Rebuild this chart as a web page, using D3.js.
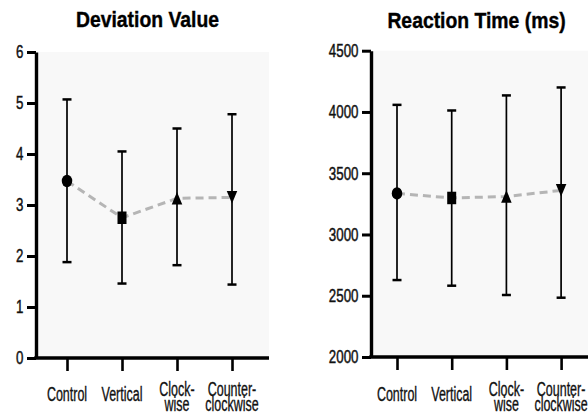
<!DOCTYPE html>
<html><head><meta charset="utf-8">
<script src="https://cdn.jsdelivr.net/npm/d3@7"></script>
<style>body{margin:0;background:#fff}</style></head>
<body><svg id="c" width="588" height="416"></svg>
<script>
// ---- data ----
const categories = ["Control", "Vertical", "Clockwise", "Counterclockwise"];
const categoryLines = [["Control"], ["Vertical"], ["Clock-", "wise"], ["Counter-", "clockwise"]];
const markerShapes = ["circle", "square", "triangleUp", "triangleDown"];

const devMean  = [3.47, 2.75, 3.13, 3.15];
const devUpper = [5.07, 4.05, 4.50, 4.78];
const devLower = [1.88, 1.46, 1.82, 1.44];
const devTicks = [0, 1, 2, 3, 4, 5, 6];

const rtMean  = [3335, 3298, 3310, 3360];
const rtUpper = [4058, 4012, 4135, 4200];
const rtLower = [2628, 2582, 2506, 2484];
const rtTicks = [2000, 2500, 3000, 3500, 4000, 4500];

const titles = ["Deviation Value", "Reaction Time (ms)"];

// ---- drawing ----
const svg = d3.select("#c");
const FONT = "'Liberation Sans', Arial, sans-serif";

function markerPath(shape, w, h) {
  const a = w / 2, b = h / 2;
  if (shape === "circle") {
    return `M${-a},0 A${a},${b} 0 1,0 ${a},0 A${a},${b} 0 1,0 ${-a},0 Z`;
  }
  if (shape === "square") return `M${-a},${-b} H${a} V${b} H${-a} Z`;
  if (shape === "triangleUp") return `M0,${-b} L${a},${b} L${-a},${b} Z`;
  return `M0,${b} L${a},${-b} L${-a},${-b} Z`;
}

function panel(o) {
  const g = svg.append("g");
  const y = d3.scaleLinear().domain([o.ticks[0], o.ticks[o.ticks.length - 1]]).range([o.bottom, o.top]);
  const x = d3.scalePoint().domain(categories).range([o.firstX, o.firstX + 3 * o.step]);

  // background
  g.append("rect").attr("x", o.axisX).attr("y", o.top)
    .attr("width", o.right - o.axisX).attr("height", o.bottom - o.top)
    .attr("fill", "#f8f8f8");

  // dashed connecting line
  const line = d3.line().x((d, i) => x(categories[i])).y(d => y(d));
  g.append("path").datum(o.mean).attr("d", line)
    .attr("fill", "none").attr("stroke", "#b5b5b5")
    .attr("stroke-width", 3).attr("stroke-dasharray", "8,5");

  // error bars
  categories.forEach((c, i) => {
    const cx = x(c);
    g.append("line").attr("x1", cx).attr("x2", cx)
      .attr("y1", y(o.lower[i])).attr("y2", y(o.upper[i]))
      .attr("stroke", "#000").attr("stroke-width", 1.7);
    [o.lower[i], o.upper[i]].forEach(v => {
      g.append("line").attr("x1", cx - 4.5).attr("x2", cx + 4.5)
        .attr("y1", y(v)).attr("y2", y(v))
        .attr("stroke", "#000").attr("stroke-width", 2.5);
    });
    g.append("path")
      .attr("transform", `translate(${cx},${y(o.mean[i])})`)
      .attr("d", markerPath(markerShapes[i], markerShapes[i] === "square" ? 9 : 10.5, 12.5))
      .attr("fill", "#000");
  });

  // y axis
  const ya = g.append("g").attr("transform", `translate(${o.axisX},0)`)
    .call(d3.axisLeft(y).tickValues(o.ticks).tickSize(9).tickSizeOuter(0).tickFormat(""));
  ya.selectAll("path.domain").attr("stroke", "#000").attr("stroke-width", 3.4);
  ya.selectAll(".tick line").attr("stroke", "#000").attr("stroke-width", 3);
  o.ticks.forEach(t => {
    g.append("text")
      .attr("transform", `translate(${o.axisX - 12.5},${y(t)}) scale(0.74,1)`)
      .attr("dy", "0.36em").attr("text-anchor", "end")
      .attr("font-family", FONT).attr("font-size", 18).attr("fill", "#111")
      .attr("stroke", "#111").attr("stroke-width", 0.45)
      .text(t);
  });

  // x axis
  g.append("line").attr("x1", o.axisX - 1.7).attr("x2", o.right)
    .attr("y1", o.bottom).attr("y2", o.bottom)
    .attr("stroke", "#000").attr("stroke-width", 3.4);
  const xa = g.append("g").attr("transform", `translate(0,${o.bottom})`)
    .call(d3.axisBottom(x).tickSize(13).tickSizeOuter(0).tickFormat(""));
  xa.select("path.domain").remove();
  xa.selectAll(".tick line").attr("stroke", "#000").attr("stroke-width", 2.6);

  categories.forEach((c, i) => {
    const lines = categoryLines[i];
    const base = 401 - (lines.length - 1) * 5.5;
    lines.forEach((s, k) => {
      g.append("text")
        .attr("transform", `translate(${x(c)},${base + k * 15.5}) scale(0.64,1)`)
        .attr("text-anchor", "middle")
        .attr("font-family", FONT).attr("font-size", 19.5).attr("fill", "#111")
        .attr("stroke", "#111").attr("stroke-width", 0.35)
        .text(s);
    });
  });

  // title
  g.append("text")
    .attr("transform", `translate(${o.titleX},${o.titleY}) scale(0.88,1)`)
    .attr("text-anchor", "middle")
    .attr("font-family", FONT).attr("font-weight", "bold").attr("font-size", 22)
    .attr("fill", "#000").attr("stroke", "#000").attr("stroke-width", 0.4)
    .text(o.title);
}

panel({axisX: 36, top: 52, bottom: 358, right: 269, firstX: 67, step: 55,
  ticks: devTicks, mean: devMean, upper: devUpper, lower: devLower,
  title: titles[0], titleX: 147.5, titleY: 27});
panel({axisX: 371, top: 50.7, bottom: 357, right: 592, firstX: 397, step: 54.7,
  ticks: rtTicks, mean: rtMean, upper: rtUpper, lower: rtLower,
  title: titles[1], titleX: 476.5, titleY: 28});
</script>
</body></html>
